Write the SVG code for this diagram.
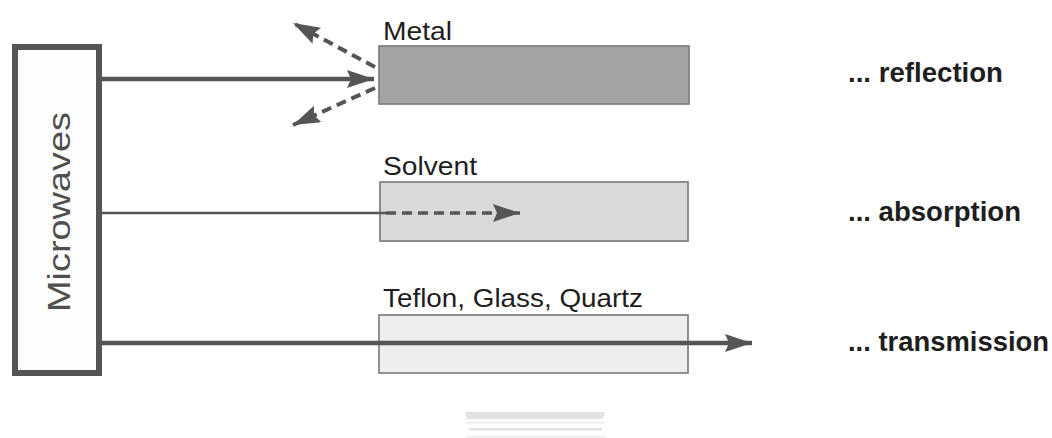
<svg xmlns="http://www.w3.org/2000/svg" width="1052" height="438" viewBox="0 0 1052 438">
  <style>
    .label { font-family: "Liberation Sans", Arial, sans-serif; font-size: 26px; fill: #1e1e1e; }
    .result { font-family: "Liberation Sans", Arial, sans-serif; font-size: 27px; font-weight: bold; fill: #1e1e1e; }
    .source { font-family: "Liberation Sans", Arial, sans-serif; font-size: 31px; fill: #4f4f4f; }
    .ray { stroke: #555555; fill: none; }
    .dash { stroke-dasharray: 10 6; }
    .slab { stroke: #848484; stroke-width: 1.8; }
  </style>
  <defs>
    <marker id="head" markerUnits="userSpaceOnUse" markerWidth="30" markerHeight="20" refX="27" refY="9" orient="auto">
      <path d="M0,0 L27,9 L0,18 L4,9 z" fill="#555555"/>
    </marker>
  </defs>

  <rect width="1052" height="438" fill="#ffffff"/>

  <!-- source -->
  <g id="microwaves">
    <rect x="15" y="47" width="84" height="326" fill="#fdfdfd" stroke="#555555" stroke-width="6"/>
    <text class="source" transform="translate(70,212) rotate(-90)" text-anchor="middle" textLength="200" lengthAdjust="spacingAndGlyphs">Microwaves</text>
  </g>

  <!-- materials -->
  <g id="metal">
    <rect class="slab" x="379" y="46" width="310" height="58" fill="#a3a3a3"/>
    <text class="label" x="383" y="40" textLength="69" lengthAdjust="spacingAndGlyphs">Metal</text>
  </g>
  <g id="solvent">
    <rect class="slab" x="380" y="182" width="308" height="59" fill="#d9d9d9"/>
    <text class="label" x="383" y="175" textLength="94" lengthAdjust="spacingAndGlyphs">Solvent</text>
  </g>
  <g id="teflon">
    <rect class="slab" x="379" y="315" width="309" height="58" fill="#eeeeee"/>
    <text class="label" x="383" y="307" textLength="260" lengthAdjust="spacingAndGlyphs">Teflon, Glass, Quartz</text>
  </g>

  <!-- outcomes -->
  <g id="reflection"><text class="result" x="848" y="82" textLength="155" lengthAdjust="spacingAndGlyphs">... reflection</text></g>
  <g id="absorption"><text class="result" x="848" y="221" textLength="173" lengthAdjust="spacingAndGlyphs">... absorption</text></g>
  <g id="transmission"><text class="result" x="848" y="351" textLength="201" lengthAdjust="spacingAndGlyphs">... transmission</text></g>

  <!-- rays -->
  <g id="connectors">
    <line class="ray" x1="102" y1="79" x2="374" y2="79" stroke-width="4.5" marker-end="url(#head)"/>
    <line class="ray dash" x1="375" y1="67" x2="293" y2="23" stroke-width="4" marker-end="url(#head)"/>
    <line class="ray dash" x1="375" y1="88" x2="293" y2="125" stroke-width="4" marker-end="url(#head)"/>

    <line class="ray" x1="102" y1="213" x2="386" y2="213" stroke-width="2.6"/>
    <line class="ray dash" x1="386" y1="213" x2="520" y2="213" stroke-width="3.5" marker-end="url(#head)"/>

    <line class="ray" x1="102" y1="343" x2="752" y2="343" stroke-width="4.5" marker-end="url(#head)"/>
  </g>

  <!-- faint rule below -->
  <g fill="#e2e2e2">
    <path d="M465,412 L605,412 L603,419 L467,419 z"/>
    <rect x="466" y="422" width="139" height="1.5" fill="#ececec"/>
    <rect x="469" y="428" width="133" height="2.5"/>
    <rect x="466" y="436" width="139" height="1.5" fill="#ececec"/>
  </g>
</svg>
